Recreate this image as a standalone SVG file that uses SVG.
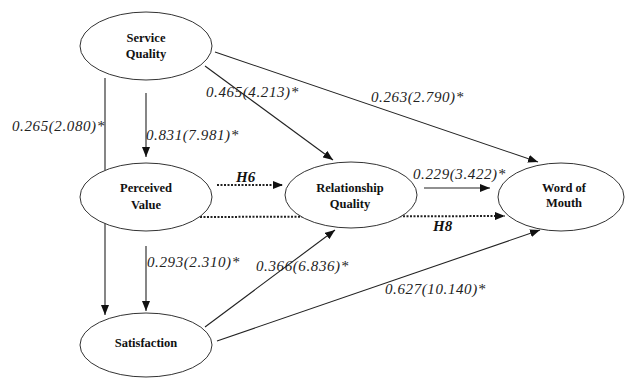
<svg xmlns="http://www.w3.org/2000/svg" width="626" height="378" viewBox="0 0 626 378">
<style>
.node ellipse{fill:#fff;stroke:#333;stroke-width:1}
.node text{font-family:"Liberation Serif",serif;font-weight:bold;font-size:12.5px;fill:#111;text-anchor:middle}
.lbl{font-family:"Liberation Serif",serif;font-style:italic;font-size:15px;letter-spacing:0.6px;fill:#222}
.hyp{font-family:"Liberation Serif",serif;font-style:italic;font-weight:bold;font-size:15px;fill:#111}
.c{stroke:#222;stroke-width:1.1;fill:none;marker-end:url(#ah)}
.d{stroke:#222;stroke-width:2;stroke-dasharray:2,1.5;fill:none;marker-end:url(#ah)}
</style>
<defs>
<marker id="ah" markerUnits="userSpaceOnUse" markerWidth="10" markerHeight="8" refX="10" refY="4" orient="auto">
<path d="M0,0 L10,4 L0,8 z" fill="#111"/>
</marker>
</defs>
<rect width="626" height="378" fill="#fff"/>
<g id="connectors">
<line class="c" x1="215" y1="52" x2="538" y2="162"/>
<line class="c" x1="205" y1="66" x2="333" y2="160"/>
<line class="c" x1="146" y1="93" x2="146" y2="157"/>
<line class="c" x1="105" y1="78" x2="105" y2="315"/>
<line class="c" x1="146" y1="246" x2="146" y2="311"/>
<line class="d" x1="217" y1="185" x2="283" y2="185"/>
<line class="d" x1="200" y1="217" x2="505" y2="216"/>
<line class="c" x1="424" y1="188" x2="490" y2="188"/>
<line class="c" x1="205" y1="327" x2="335" y2="230"/>
<line class="c" x1="217" y1="341" x2="540" y2="230"/>
</g>
<g id="labels">
<text class="lbl" x="12" y="131">0.265(2.080)*</text>
<text class="lbl" x="146" y="140">0.831(7.981)*</text>
<text class="lbl" x="206" y="97">0.465(4.213)*</text>
<text class="lbl" x="371" y="102">0.263(2.790)*</text>
<text class="lbl" x="413" y="179">0.229(3.422)*</text>
<text class="hyp" x="236" y="182">H6</text>
<text class="hyp" x="433" y="231">H8</text>
<text class="lbl" x="147" y="267">0.293(2.310)*</text>
<text class="lbl" x="256" y="271">0.366(6.836)*</text>
<text class="lbl" x="385" y="294">0.627(10.140)*</text>
</g>
<g id="service-quality" class="node">
<ellipse cx="146" cy="46" rx="66" ry="34"/>
<text x="146" y="42">Service</text>
<text x="146" y="58">Quality</text>
</g>
<g id="perceived-value" class="node">
<ellipse cx="146" cy="197" rx="66" ry="34"/>
<text x="146" y="192">Perceived</text>
<text x="146" y="209">Value</text>
</g>
<g id="satisfaction" class="node">
<ellipse cx="146" cy="345" rx="66" ry="32"/>
<text x="146" y="347">Satisfaction</text>
</g>
<g id="relationship-quality" class="node">
<ellipse cx="351" cy="195" rx="66" ry="33"/>
<text x="350" y="192">Relationship</text>
<text x="350" y="208">Quality</text>
</g>
<g id="word-of-mouth" class="node">
<ellipse cx="561" cy="197" rx="63" ry="34"/>
<text x="564" y="192">Word of</text>
<text x="564" y="207">Mouth</text>
</g>
</svg>
